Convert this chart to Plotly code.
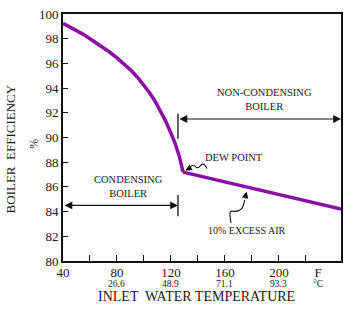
import plotly.graph_objects as go

# ---- data ----
curve_temp_f = [40, 45, 50, 55, 60, 65, 70, 75, 80, 85, 90, 95, 100, 104, 108, 112, 116, 120, 123, 126, 129]
curve_eff = [99.25, 98.97, 98.67, 98.35, 98.0, 97.65, 97.27, 96.88, 96.45, 96.0, 95.48, 94.9, 94.25,
             93.65, 92.98, 92.2, 91.35, 90.35, 89.55, 88.55, 87.2]
line_temp_f = [129, 246]
line_eff = [87.2, 84.2]

x_tick_vals = [40, 80, 120, 160, 200, 229]
x_tick_text = ["40", "80", "120", "160", "200", "F"]
celsius_vals = [80, 120, 160, 200, 229]
celsius_text = ["26.6", "48.9", "71.1", "93.3", "°C"]
x_minor_ticks = [60, 80, 100, 120, 140, 160, 180, 200, 220]
y_tick_vals = [80, 82, 84, 86, 88, 90, 92, 94, 96, 98, 100]

PURPLE = "#8a0ea6"
FONT = "Liberation Serif"
TXT = "#1a1a1a"

fig = go.Figure()
fig.add_trace(go.Scatter(x=curve_temp_f, y=curve_eff, mode="lines",
                         line=dict(color=PURPLE, width=3.5),
                         showlegend=False, hoverinfo="skip"))
fig.add_trace(go.Scatter(x=line_temp_f, y=line_eff, mode="lines",
                         line=dict(color=PURPLE, width=3.5),
                         showlegend=False, hoverinfo="skip"))

annotations = []
# celsius row
for v, t in zip(celsius_vals, celsius_text):
    annotations.append(dict(x=v, y=-0.092, xref="x", yref="paper", text=t, showarrow=False,
                            font=dict(family=FONT, size=9.5, color=TXT), yanchor="middle"))
# axis titles
annotations.append(dict(x=0.482, y=-0.142, xref="paper", yref="paper", text="INLET  WATER TEMPERATURE",
                        showarrow=False, font=dict(family=FONT, size=14, color=TXT), yanchor="middle"))
annotations.append(dict(x=-0.222, y=0.455, xref="paper", yref="paper", text="BOILER  EFFICIENCY",
                        textangle=-90, showarrow=False, font=dict(family=FONT, size=13, color=TXT)))
annotations.append(dict(x=-0.137, y=0.474, xref="paper", yref="paper", text="%",
                        textangle=-90, showarrow=False, font=dict(family=FONT, size=12, color=TXT)))
# region labels
annotations.append(dict(x=189, y=93.1, text="NON-CONDENSING<br>BOILER", showarrow=False,
                        font=dict(family=FONT, size=10.5, color=TXT)))
annotations.append(dict(x=88.5, y=86.03, text="CONDENSING<br>BOILER", showarrow=False,
                        font=dict(family=FONT, size=10.5, color=TXT)))
annotations.append(dict(x=166.7, y=88.4, text="DEW POINT", showarrow=False,
                        font=dict(family=FONT, size=10.5, color=TXT)))
annotations.append(dict(x=176.1, y=82.5, text="10% EXCESS AIR", showarrow=False,
                        font=dict(family=FONT, size=10, color=TXT)))
# double headed arrows
annotations.append(dict(x=246, y=91.5, ax=125.2, ay=91.5, xref="x", yref="y", axref="x", ayref="y",
                        text="", showarrow=True, arrowside="end+start", arrowhead=2, arrowsize=1.3,
                        arrowwidth=1.2, arrowcolor="#111", standoff=0, startstandoff=0))
annotations.append(dict(x=125.2, y=84.5, ax=40, ay=84.5, xref="x", yref="y", axref="x", ayref="y",
                        text="", showarrow=True, arrowside="end+start", arrowhead=2, arrowsize=1.3,
                        arrowwidth=1.2, arrowcolor="#111", standoff=0, startstandoff=0))
# wavy arrow heads
annotations.append(dict(x=130.6, y=87.33, ax=133.5, ay=87.5, xref="x", yref="y", axref="x", ayref="y",
                        text="", showarrow=True, arrowhead=2, arrowsize=1.2, arrowwidth=1.1,
                        arrowcolor="#111", standoff=0))
annotations.append(dict(x=176.1, y=85.62, ax=174.6, ay=84.95, xref="x", yref="y", axref="x", ayref="y",
                        text="", showarrow=True, arrowhead=2, arrowsize=1.2, arrowwidth=1.1,
                        arrowcolor="#111", standoff=0))

shapes = [
    dict(type="line", x0=125.2, x1=125.2, y0=89.9, y1=91.95, xref="x", yref="y",
         line=dict(color="#111", width=1.3)),
    dict(type="line", x0=125.2, x1=125.2, y0=83.62, y1=85.35, xref="x", yref="y",
         line=dict(color="#111", width=1.3)),
    dict(type="path", xref="x", yref="y", line=dict(color="#111", width=1.1),
         path="M 146.7,87.48 C 145.5,87.75 144.2,87.9 143,87.83 C 141.5,87.72 140.5,87.5 139.3,87.56 "
              "C 138,87.62 137,87.8 135.6,87.72 C 134.8,87.66 134.2,87.56 133.5,87.5"),
    dict(type="path", xref="x", yref="y", line=dict(color="#111", width=1.1),
         path="M 164.5,83.09 C 163.8,83.5 163.5,83.8 163.9,83.95 C 164.5,84.1 165.5,84.02 167,84.02 "
              "C 169.5,84.02 171.5,84.1 172.8,84.3 C 174,84.5 174.2,84.7 174.6,84.95"),
]

fig.update_layout(
    width=353, height=328,
    margin=dict(l=63, r=12, t=7, b=67),
    plot_bgcolor="white", paper_bgcolor="white",
    font=dict(family=FONT, color=TXT),
    annotations=annotations, shapes=shapes,
    xaxis=dict(range=[40, 246], showgrid=False, zeroline=False, showline=True, mirror=True,
               linecolor="#111", linewidth=1.8, tickmode="array", tickvals=x_tick_vals,
               ticktext=x_tick_text, ticks="", ticklabelstandoff=-2,
               tickfont=dict(family=FONT, size=13, color=TXT),
               minor=dict(tickmode="array", tickvals=x_minor_ticks, ticks="inside", ticklen=6,
                          tickcolor="#111", tickwidth=1.3, showgrid=False)),
    yaxis=dict(range=[80, 100], showgrid=False, zeroline=False, showline=True, mirror=True,
               linecolor="#111", linewidth=1.8, tickmode="array", tickvals=y_tick_vals,
               ticks="inside", ticklen=5, tickcolor="#111", tickwidth=1.3,
               tickfont=dict(family=FONT, size=13, color=TXT)),
)

fig.write_html("out.html")
